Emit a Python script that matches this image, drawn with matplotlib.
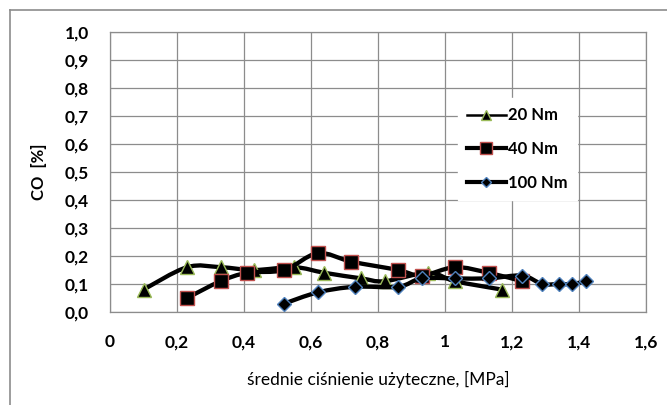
import numpy as np
import matplotlib.pyplot as plt
from matplotlib.path import Path
from matplotlib.patches import PathPatch
from matplotlib.lines import Line2D

# CO emission vs mean effective pressure, three engine loads
x_20 = [0.10, 0.23, 0.33, 0.43, 0.55, 0.64, 0.75, 0.82, 0.95, 1.03, 1.17]
co_20 = [0.08, 0.16, 0.16, 0.15, 0.16, 0.14, 0.12, 0.11, 0.14, 0.11, 0.08]

x_40 = [0.23, 0.33, 0.41, 0.52, 0.62, 0.72, 0.86, 0.93, 1.03, 1.13, 1.23]
co_40 = [0.05, 0.11, 0.14, 0.15, 0.21, 0.18, 0.15, 0.13, 0.16, 0.14, 0.11]

x_100 = [0.52, 0.62, 0.73, 0.86, 0.93, 1.03, 1.13, 1.23, 1.29, 1.34, 1.38, 1.42]
co_100 = [0.03, 0.07, 0.09, 0.09, 0.12, 0.12, 0.12, 0.13, 0.10, 0.10, 0.10, 0.11]

labels = ['20 Nm', '40 Nm', '100 Nm']
x_ticks = [0, 0.2, 0.4, 0.6, 0.8, 1.0, 1.2, 1.4, 1.6]
x_ticklabels = ['0', '0,2', '0,4', '0,6', '0,8', '1', '1,2', '1,4', '1,6']
y_ticks = [0.0, 0.1, 0.2, 0.3, 0.4, 0.5, 0.6, 0.7, 0.8, 0.9, 1.0]

plt.rcParams['font.family'] = ['Lato', 'DejaVu Sans']


def smooth_path(xs, ys):
    # bezier segments through every point, like a spreadsheet "smoothed line"
    p = np.column_stack([xs, ys]).astype(float)
    n = len(p)
    verts = [p[0]]
    codes = [Path.MOVETO]
    for i in range(n - 1):
        p0 = p[i - 1] if i > 0 else p[i]
        p3 = p[i + 2] if i + 2 < n else p[i + 1]
        c1 = p[i] + (p[i + 1] - p0) / 6.0
        c2 = p[i + 1] - (p3 - p[i]) / 6.0
        verts += [c1, c2, p[i + 1]]
        codes += [Path.CURVE4] * 3
    return Path(verts, codes)


fig = plt.figure(figsize=(6.67, 4.05), dpi=100)
ax = fig.add_axes([110 / 667, 1 - 312 / 405, 536 / 667, 280 / 405])

series = [
    (x_20, co_20, '^', 9.5, '#9bbb59'),
    (x_40, co_40, 's', 9.5, '#c0504d'),
    (x_100, co_100, 'D', 7, '#4f81bd'),
]
for k, (xs, ys, mk, ms, ec) in enumerate(series):
    ax.add_patch(PathPatch(smooth_path(xs, ys), fill=False, edgecolor='black',
                           lw=3.1, capstyle='round', joinstyle='round', zorder=3 + k))
    ax.plot(xs, ys, ls='none', marker=mk, ms=ms, mfc='black', mec=ec, mew=1.0, zorder=3.5 + k)

ax.set_xlim(0, 1.6)
ax.set_ylim(0, 1.0)
ax.set_xticks(x_ticks)
ax.set_xticklabels(x_ticklabels)
ax.set_yticks(y_ticks)
ax.set_yticklabels([('%.1f' % v).replace('.', ',') for v in y_ticks])
ax.tick_params(length=0, labelsize=12.5)
ax.tick_params(axis='y', pad=15)
ax.tick_params(axis='x', pad=16)
for t in ax.get_xticklabels() + ax.get_yticklabels():
    t.set_fontweight('bold')

ax.grid(True, color='#8c8c8c', lw=0.9)
ax.set_axisbelow(True)
for s in ax.spines.values():
    s.set_color('#8c8c8c')
    s.set_linewidth(0.9)

ax.set_xlabel('średnie ciśnienie użyteczne, [MPa]', fontsize=12.5, labelpad=15)
ax.set_ylabel('CO  [%]', fontsize=12, fontweight='bold', labelpad=13)

handles = [
    Line2D([], [], color='black', lw=1.8, marker='^', ms=7.5, mfc='black', mec='#9bbb59'),
    Line2D([], [], color='black', lw=3.0, marker='s', ms=8.5, mfc='black', mec='#c0504d'),
    Line2D([], [], color='black', lw=3.0, marker='D', ms=5.5, mfc='black', mec='#4f81bd'),
]
leg = fig.legend(handles, labels, loc='center left', bbox_to_anchor=(458 / 667, 1 - 149 / 405),
                 frameon=True, fancybox=False, edgecolor='white', framealpha=1,
                 prop={'weight': 'bold', 'size': 12}, handlelength=2.3,
                 handletextpad=0.15, labelspacing=1.05, borderpad=0.55, borderaxespad=0)
leg.set_zorder(10)

# outer chart frame (only top and left edges fall inside the image)
fig.add_artist(Line2D([10 / 667, 1], [1 - 10 / 405, 1 - 10 / 405], color='#8c8c8c', lw=1.2))
fig.add_artist(Line2D([10 / 667, 10 / 667], [0, 1 - 10 / 405], color='#8c8c8c', lw=1.2))

fig.savefig('out.png', dpi=100)
